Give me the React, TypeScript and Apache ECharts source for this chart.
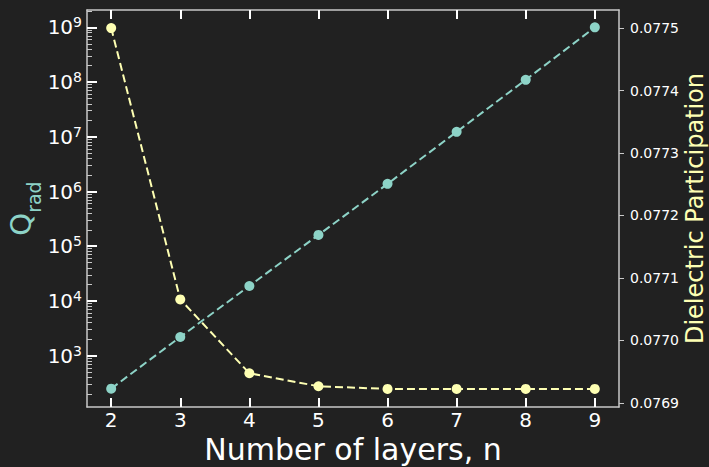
import React, { useEffect, useRef } from "react";
import * as echarts from "echarts";

// ---- data ----
const N_LAYERS = [2, 3, 4, 5, 6, 7, 8, 9];
const Q_RAD = [250, 2200, 18800, 161000, 1.38e6, 1.23e7, 1.1e8, 1.0e9];
const DIELECTRIC = [0.0775, 0.0770657, 0.0769475, 0.0769267, 0.0769224, 0.0769224, 0.0769224, 0.0769224];

// ---- ticks ----
const X_TICKS = [2, 3, 4, 5, 6, 7, 8, 9];
const Q_MAJOR_TICKS = [1e3, 1e4, 1e5, 1e6, 1e7, 1e8, 1e9];
const Q_MINOR_MULTIPLIERS = [2, 3, 4, 5, 6, 7, 8, 9];
const Q_MINOR_DECADES = [1e2, 1e3, 1e4, 1e5, 1e6, 1e7, 1e8, 1e9];
const D_TICKS = [0.0769, 0.077, 0.0771, 0.0772, 0.0773, 0.0774, 0.0775];

// ---- axis limits ----
const X_MIN = 1.65;
const X_MAX = 9.35;
const Q_MIN = 115.5;
const Q_MAX = 2.074e9;
const D_MIN = 0.0768935;
const D_MAX = 0.0775289;

const TEAL = "#8dd3c7";
const YELLOW = "#feffb3";
const BG = "#212121";
const SPINE = "#c8c8c8";
const FONT = "DejaVu Sans";

export default function App() {
  const ref = useRef<HTMLDivElement>(null);

  useEffect(() => {
    if (!ref.current) return;
    const chart = echarts.init(ref.current, undefined, { renderer: "svg" });

    const minorVals: number[] = [];
    Q_MINOR_DECADES.forEach((d) =>
      Q_MINOR_MULTIPLIERS.forEach((m) => minorVals.push(Math.log10(m * d)))
    );

    const option: any = {
      animation: false,
      backgroundColor: BG,
      textStyle: { fontFamily: FONT },
      grid: { left: 87, right: 90, top: 10, bottom: 60, containLabel: false, outerBoundsMode: "none" },
      xAxis: [
        {
          type: "value",
          position: "bottom",
          min: X_MIN,
          max: X_MAX,
          splitLine: { show: false },
          axisLine: { show: true, lineStyle: { color: SPINE, width: 1.5 } },
          axisTick: {
            show: true,
            inside: true,
            length: 9,
            customValues: X_TICKS,
            lineStyle: { color: "#ffffff", width: 2 },
          },
          axisLabel: {
            customValues: X_TICKS,
            color: "#ffffff",
            fontSize: 20,
            lineHeight: 18,
            margin: 4,
            fontFamily: FONT,
          },
          name: "Number of layers, n",
          nameLocation: "middle",
          nameGap: 27,
          nameMoveOverlap: false,
          nameTextStyle: { color: "#ffffff", fontSize: 30, lineHeight: 30, fontFamily: FONT },
        },
        {
          type: "value",
          position: "top",
          min: X_MIN,
          max: X_MAX,
          splitLine: { show: false },
          axisLine: { show: true, lineStyle: { color: SPINE, width: 1.5 } },
          axisTick: {
            show: true,
            inside: true,
            length: 9,
            customValues: X_TICKS,
            lineStyle: { color: "#ffffff", width: 2 },
          },
          axisLabel: { show: false },
        },
      ],
      yAxis: [
        {
          type: "log",
          logBase: 10,
          position: "left",
          min: Q_MIN,
          max: Q_MAX,
          splitLine: { show: false },
          axisLine: { show: true, lineStyle: { color: SPINE, width: 1.5 } },
          axisTick: { show: false },
          axisLabel: {
            showMinLabel: false,
            showMaxLabel: false,
            margin: 5,
            formatter: (v: number) => {
              const e = Math.round(Math.log10(v));
              return `{b|10}{s|${e}}`;
            },
            rich: {
              b: { fontSize: 20, color: "#ffffff", fontFamily: FONT, lineHeight: 24 },
              s: { fontSize: 14, color: "#ffffff", fontFamily: FONT, verticalAlign: "top", lineHeight: 14 },
            },
          },
          name: "{q|Q}{s|rad}",
          nameLocation: "middle",
          nameRotate: 90,
          nameGap: 44,
          nameMoveOverlap: false,
          nameTextStyle: {
            color: TEAL,
            rich: {
              q: { fontSize: 29, color: TEAL, fontFamily: FONT },
              s: { fontSize: 19, color: TEAL, fontFamily: FONT, verticalAlign: "bottom", padding: [26, 0, 0, 0] },
            },
          },
        },
        {
          type: "value",
          position: "right",
          min: D_MIN,
          max: D_MAX,
          splitLine: { show: false },
          axisLine: { show: true, lineStyle: { color: SPINE, width: 1.5 } },
          axisTick: {
            show: true,
            inside: false,
            length: 5,
            customValues: D_TICKS,
            lineStyle: { color: SPINE, width: 1 },
          },
          axisLabel: {
            customValues: D_TICKS,
            color: "#ffffff",
            fontSize: 14,
            margin: 11,
            fontFamily: FONT,
            formatter: (v: number) => v.toFixed(4),
          },
          name: "Dielectric Participation",
          nameLocation: "middle",
          nameRotate: 90,
          nameGap: 64,
          nameMoveOverlap: false,
          nameTextStyle: { color: YELLOW, fontSize: 24, lineHeight: 24, fontFamily: FONT },
        },
        {
          // minor log ticks (log10 space)
          type: "value",
          position: "left",
          offset: 0,
          min: Math.log10(Q_MIN),
          max: Math.log10(Q_MAX),
          splitLine: { show: false },
          axisLine: { show: false },
          axisLabel: { show: false },
          axisTick: {
            show: true,
            inside: true,
            length: 5,
            customValues: minorVals,
            lineStyle: { color: SPINE, width: 1 },
          },
        },
        {
          // major log ticks (log10 space)
          type: "value",
          position: "left",
          offset: 0,
          min: Math.log10(Q_MIN),
          max: Math.log10(Q_MAX),
          splitLine: { show: false },
          axisLine: { show: false },
          axisLabel: { show: false },
          axisTick: {
            show: true,
            inside: true,
            length: 10,
            customValues: Q_MAJOR_TICKS.map((v) => Math.log10(v)),
            lineStyle: { color: "#ffffff", width: 2 },
          },
        },
      ],
      series: [
        {
          type: "line",
          xAxisIndex: 0,
          yAxisIndex: 0,
          data: N_LAYERS.map((n, i) => [n, Q_RAD[i]]),
          symbol: "circle",
          symbolSize: 10,
          itemStyle: { color: TEAL },
          lineStyle: { color: TEAL, width: 2, type: [8, 4] },
        },
        {
          type: "line",
          xAxisIndex: 0,
          yAxisIndex: 1,
          data: N_LAYERS.map((n, i) => [n, DIELECTRIC[i]]),
          symbol: "circle",
          symbolSize: 10,
          itemStyle: { color: YELLOW },
          lineStyle: { color: YELLOW, width: 2, type: [8, 4] },
        },
      ],
    };

    chart.setOption(option);
    return () => chart.dispose();
  }, []);

  return (
    <div
      ref={ref}
      style={{ position: "fixed", left: 0, top: 0, width: 709, height: 467, background: BG }}
    />
  );
}
